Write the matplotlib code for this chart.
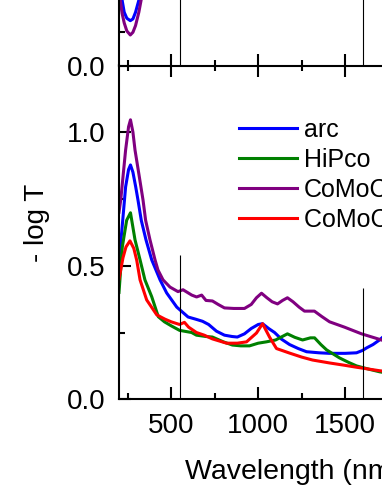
import numpy as np
import matplotlib
matplotlib.use('Agg')
import matplotlib.pyplot as plt
from matplotlib.ticker import MultipleLocator

plt.rcParams['font.family'] = ['Liberation Sans', 'DejaVu Sans']

#---------------------DATA--------------------#
# bottom panel: absorbance spectra
arc_wl = [200, 215, 238, 255, 266, 280, 296, 309, 328, 355, 388, 436, 474, 532,
          597, 640, 680, 715, 760, 806, 850, 880, 921, 960, 1000, 1025, 1060,
          1094, 1134, 1180, 1230, 1278, 1350, 1410, 1500, 1565, 1600, 1622,
          1660, 1697, 1720]
arc_a = [0.53, 0.622, 0.795, 0.86, 0.877, 0.85, 0.795, 0.746, 0.67, 0.597,
         0.522, 0.447, 0.398, 0.345, 0.308, 0.30, 0.292, 0.28, 0.255, 0.24,
         0.235, 0.233, 0.245, 0.265, 0.28, 0.283, 0.265, 0.25, 0.225, 0.205,
         0.19, 0.178, 0.174, 0.172, 0.172, 0.174, 0.183, 0.192, 0.205, 0.222,
         0.235]

hipco_wl = [200, 219, 244, 266, 292, 321, 349, 388, 426, 461, 500,
            548, 617, 645, 700, 737, 800, 852, 900, 950, 1000, 1047, 1100,
            1168, 1210, 1255, 1300, 1324, 1360, 1393, 1467, 1520, 1565, 1640,
            1697, 1750]
hipco_a = [0.40, 0.57, 0.67, 0.698, 0.597, 0.522, 0.447, 0.384, 0.309,
           0.29, 0.275, 0.258, 0.25, 0.24, 0.235, 0.233, 0.215, 0.203, 0.2,
           0.2, 0.21, 0.215, 0.222, 0.245, 0.232, 0.222, 0.23, 0.23, 0.205,
           0.185, 0.155, 0.138, 0.125, 0.112, 0.103, 0.097]

como_wl = [200, 210, 238, 255, 266, 280, 292, 315, 338, 353, 378, 407, 424,
           453, 493, 539, 568, 618, 646, 675, 700, 737, 770, 806, 860,
           921, 960, 990, 1019, 1050, 1080, 1111, 1140, 1168, 1200, 1235,
           1266, 1323, 1365, 1410, 1496, 1594, 1709, 1750]
como_a = [0.70, 0.746, 0.933, 1.02, 1.046, 1.0, 0.933, 0.84, 0.746, 0.67,
          0.597, 0.522, 0.484, 0.447, 0.42, 0.403, 0.41, 0.39, 0.383, 0.39,
          0.37, 0.368, 0.355, 0.342, 0.34, 0.34, 0.355, 0.38, 0.397, 0.38,
          0.365, 0.357, 0.37, 0.38, 0.365, 0.345, 0.33, 0.33, 0.31, 0.29,
          0.27, 0.245, 0.222, 0.21]

como2_wl = [200, 223, 240, 263, 285, 302, 321, 359, 417, 464, 500, 548,
            576, 600, 645, 690, 737, 818, 880, 933, 990, 1025, 1065, 1105,
            1180, 1250, 1312, 1410, 1490, 1565, 1697, 1750]
como2_a = [0.45, 0.53, 0.57, 0.593, 0.565, 0.52, 0.447, 0.372, 0.316, 0.30,
           0.29, 0.28, 0.288, 0.27, 0.25, 0.24, 0.226, 0.21, 0.21,
           0.215, 0.248, 0.283, 0.233, 0.19, 0.173, 0.158, 0.147, 0.136, 0.128,
           0.12, 0.107, 0.103]

# top panel: only the dip near 265 nm shows
top_wl = [200, 207, 218, 230, 245, 265, 280, 295, 314, 327, 345, 380]
top_arc = [0.75, 0.62, 0.49, 0.40, 0.355, 0.337, 0.35, 0.40, 0.49, 0.58, 0.72, 0.95]
top_como = [0.60, 0.49, 0.39, 0.32, 0.26, 0.23, 0.25, 0.30, 0.40, 0.49, 0.65, 0.90]
top_hipco = [1.10, 1.00, 0.85, 0.70, 0.58, 0.51, 0.50, 0.55, 0.68, 0.80, 0.95, 1.20]
top_como2 = [1.30, 1.20, 1.05, 0.95, 0.85, 0.78, 0.78, 0.85, 0.98, 1.10, 1.25, 1.40]

labels = ['arc', 'HiPco', 'CoMoCAT', 'CoMoCAT (6,5)']
colors = ['#0000ff', '#008000', '#800080', '#ff0000']

marks = [550, 1600]
mark_tops = [0.54, 0.417]

#---------------------FIGURE--------------------#
W, H = 382.0, 494.0
fig = plt.figure(figsize=(W / 100, H / 100), dpi=100)

left = 119.0 / W
width = 348.0 / W
ax = fig.add_axes([left, (H - 399.3) / H, width, 334.0 / H])
ax_top = fig.add_axes([left, (H - 65.7) / H, width, 334.0 / H])

lw = 2.2
for a in (ax, ax_top):
    for s in a.spines.values():
        s.set_linewidth(1.5)
    a.xaxis.set_major_locator(MultipleLocator(500))
    a.xaxis.set_minor_locator(MultipleLocator(250))
    a.tick_params(which='both', direction='in', top=True, right=True,
                  width=1.5, labelsize=20)
    a.tick_params(which='major', length=8.6, pad=10)
    a.tick_params(which='minor', length=4.3)
    a.set_xlim(200, 2200)

ax.plot(arc_wl, arc_a, color=colors[0], lw=lw, label=labels[0])
ax.plot(hipco_wl, hipco_a, color=colors[1], lw=lw, label=labels[1])
ax.plot(como_wl, como_a, color=colors[2], lw=lw, label=labels[2])
ax.plot(como2_wl, como2_a, color=colors[3], lw=lw, label=labels[3])
ax.vlines(marks, 0, mark_tops, color='k', lw=0.8)
ax.set_ylim(0, 1.25)
ax.yaxis.set_major_locator(MultipleLocator(0.5))
ax.yaxis.set_minor_locator(MultipleLocator(0.25))
ax.yaxis.set_major_formatter('{x:.1f}')

ax_top.plot(top_wl, top_hipco, color=colors[1], lw=lw)
ax_top.plot(top_wl, top_como2, color=colors[3], lw=lw)
ax_top.plot(top_wl, top_arc, color=colors[0], lw=lw)
ax_top.plot(top_wl, top_como, color=colors[2], lw=lw)
for m in marks:
    ax_top.axvline(m, color='k', lw=0.8)
ax_top.set_ylim(0, 2.5)
ax_top.yaxis.set_major_locator(MultipleLocator(1.0))
ax_top.yaxis.set_minor_locator(MultipleLocator(0.25))
ax_top.yaxis.set_major_formatter('{x:.1f}')
ax_top.tick_params(labelbottom=False)

ax.set_ylabel('- log T', fontsize=20)
ax.yaxis.set_label_coords(-0.198, 0.528)
ax.set_xlabel('Wavelength (nm)', fontsize=20.5, labelpad=14)

ax.legend(loc='upper left', bbox_to_anchor=(0.345, 0.842), frameon=False,
          fontsize=18, handlelength=2.3, handletextpad=0.3,
          labelspacing=0.24, borderpad=0, borderaxespad=0)

plt.savefig('out.png', dpi=100)
